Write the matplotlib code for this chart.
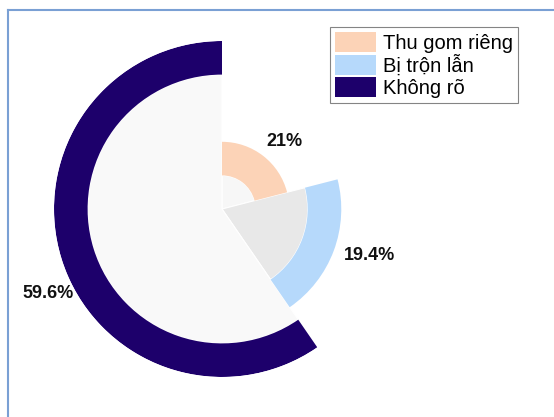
import numpy as np
import matplotlib
matplotlib.use("Agg")
import matplotlib.pyplot as plt
from matplotlib.lines import Line2D
from matplotlib.patches import Patch

plt.rcParams['font.family'] = ['Liberation Sans', 'DejaVu Sans']

# ---- data ----
categories = ["Thu gom riêng", "Bị trộn lẫn", "Không rõ"]
shares = [21.0, 19.4, 59.6]
outer_radius = [0.40, 0.71, 1.00]
ring_width = 0.20
ring_colors = ["#fcd3b7", "#b6d9fb", "#1d006b"]
inner_colors = ["#f7f7f7", "#e8e8e8", "#f9f9f9"]
label_texts = ["21%", "19.4%", "59.6%"]
label_theta_deg = [42.8, 107.4, 244.2]
label_r = [0.55, 0.92, 1.15]

W, H, DPI = 554, 417, 100
fig = plt.figure(figsize=(W / DPI, H / DPI), dpi=DPI)
fig.patch.set_facecolor("white")

cx, cy, R = 222, 209, 168
ax = fig.add_axes([(cx - R) / W, (H - cy - R) / H, 2 * R / W, 2 * R / H],
                  projection="polar")
ax.set_theta_zero_location("N")
ax.set_theta_direction(-1)

fr = np.array(shares) / np.sum(shares)
widths = fr * 2 * np.pi
starts = np.concatenate([[0], np.cumsum(widths)[:-1]])
outer = np.array(outer_radius)
inner = outer - ring_width

ax.bar(starts, inner, width=widths, bottom=0, align="edge",
       color=inner_colors, edgecolor="white", linewidth=0.8)
ax.bar(starts, [ring_width] * 3, width=widths, bottom=inner, align="edge",
       color=ring_colors, edgecolor="none", linewidth=0)

for t, th, r in zip(label_texts, label_theta_deg, label_r):
    ax.text(np.deg2rad(th), r, t, ha="center", va="center",
            fontsize=13, fontweight="bold", color="#111111", clip_on=False)

ax.set_ylim(0, 1.0)
ax.set_axis_off()

handles = [Patch(facecolor=c, edgecolor="none") for c in ring_colors]
leg = fig.legend(handles, categories, loc="upper right",
                 bbox_to_anchor=(518 / W, 1 - 27 / H), fontsize=14.5,
                 frameon=True, fancybox=False, edgecolor="#666666",
                 handlelength=2.0, handleheight=1.1, labelspacing=0.08,
                 handletextpad=0.35, borderpad=0.27, borderaxespad=0)
leg.get_frame().set_linewidth(0.8)

# light blue frame lines (top and left)
bc = "#7aa0d4"
fig.add_artist(Line2D([8 / W, 8 / W], [0, 1 - 10 / H], color=bc, lw=1.5,
                      transform=fig.transFigure))
fig.add_artist(Line2D([8 / W, 1], [1 - 10 / H, 1 - 10 / H], color=bc, lw=1.5,
                      transform=fig.transFigure))

fig.savefig("out.png", dpi=DPI, facecolor="white")
